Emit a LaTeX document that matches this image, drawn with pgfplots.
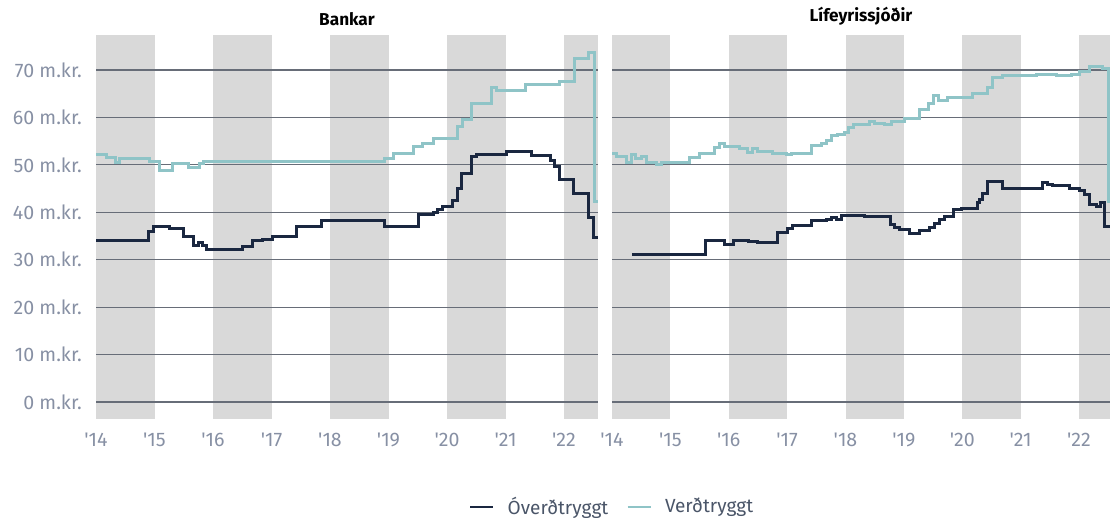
\documentclass[border=0pt]{standalone}
\usepackage{fontspec}
\setmainfont{Fira Sans}
\usepackage{pgfplots}
\pgfplotsset{compat=1.18}
\definecolor{navy}{HTML}{1A2740}
\definecolor{teal}{HTML}{8FC4C7}
\definecolor{band}{HTML}{D9D9D9}
\definecolor{gridc}{HTML}{676D78}
\definecolor{tickc}{HTML}{8790A4}
\definecolor{legc}{HTML}{4A5568}
\pgfplotsset{
  panel/.style={
    set layers,
    scale only axis,
    height=192pt,
    ymin=-3.6, ymax=77.4,
    enlargelimits=false,
    axis line style={draw=none},
    major tick style={draw=none},
    ymajorgrids,
    grid style={gridc, line width=0.6pt},
    ytick={0,10,...,70},
    xtick={2014,...,2022},
    xticklabels={\textquotesingle14,\textquotesingle15,\textquotesingle16,\textquotesingle17,\textquotesingle18,\textquotesingle19,\textquotesingle20,\textquotesingle21,\textquotesingle22},
    tick label style={font=\fontsize{9.8}{11}\selectfont, text=tickc},
    xticklabel style={yshift=-3.3pt},
    yticklabel style={xshift=-3.6pt},
    title style={font=\bfseries\fontsize{8.6}{10}\selectfont, text=black, yshift=-4.7pt},
  },
  navyl/.style={const plot, navy, line width=1.5pt, no marks},
  teall/.style={const plot, teal, line width=1.5pt, no marks},
}
\newcommand\bands[1]{%
  \begin{pgfonlayer}{axis background}
  \fill[band] (axis cs:2014,-3.6) rectangle (axis cs:2015,77.4);
  \fill[band] (axis cs:2016,-3.6) rectangle (axis cs:2017,77.4);
  \fill[band] (axis cs:2018,-3.6) rectangle (axis cs:2019,77.4);
  \fill[band] (axis cs:2020,-3.6) rectangle (axis cs:2021,77.4);
  \fill[band] (axis cs:2022,-3.6) rectangle (axis cs:#1,77.4);
  \end{pgfonlayer}}
\begin{document}
\begin{tikzpicture}
% Left panel: Bankar
\begin{axis}[panel, at={(48pt,49.5pt)}, anchor=south west, width=251pt,
  xmin=2014, xmax=2022.58,
  yticklabels={0 m.kr.,10 m.kr.,20 m.kr.,30 m.kr.,40 m.kr.,50 m.kr.,60 m.kr.,70 m.kr.},
  title={Bankar},
  legend style={at={(1.030,-0.229)}, anchor=center, draw=none, fill=none,
    legend columns=2, font=\fontsize{9.5}{11}\selectfont, text=legc,
    /tikz/every odd column/.append style={column sep=4.5pt},
    /tikz/every even column/.append style={column sep=7pt}},
  legend image code/.code={\draw[#1, line width=1.4pt] (0pt,0pt) -- (11.5pt,0pt);},
]
\bands{2022.58}
\addplot[navyl] coordinates {
(2014.000,34.0)(2014.901,35.9)(2014.991,37.0)(2015.248,36.6)(2015.487,34.9)
(2015.658,32.9)(2015.744,33.7)(2015.812,32.9)(2015.897,32.2)(2016.496,32.8)
(2016.667,34.0)(2016.838,34.2)(2017.009,34.9)(2017.419,37.0)(2017.846,38.2)
(2018.923,37.0)(2019.504,39.5)(2019.761,40.0)(2019.829,40.6)(2019.915,41.3)
(2020.085,42.4)(2020.171,45.1)(2020.239,48.2)(2020.410,51.8)(2020.496,52.2)
(2021.009,52.9)(2021.436,52.0)(2021.761,51.0)(2021.829,49.6)(2021.915,46.9)
(2022.154,43.9)(2022.410,39.0)(2022.496,34.6)(2022.581,34.6)
};
\addlegendentry{Óverðtryggt}
\addplot[teall] coordinates {
(2014.000,52.1)(2014.171,51.5)(2014.325,50.5)(2014.410,51.3)(2014.906,50.8)
(2015.077,48.9)(2015.316,50.2)(2015.573,49.4)(2015.761,50.2)(2015.829,50.8)
(2018.923,51.3)(2019.077,52.5)(2019.419,53.8)(2019.573,54.5)(2019.761,55.5)
(2020.171,58.1)(2020.256,59.6)(2020.410,62.9)(2020.752,66.3)(2020.838,65.7)
(2021.333,67.0)(2021.915,67.5)(2022.171,72.4)(2022.410,73.7)(2022.513,42.3)
(2022.581,42.3)
};
\addlegendentry{Verðtryggt}
\end{axis}
% Right panel: Lifeyrissjodir
\begin{axis}[panel, at={(306pt,49.5pt)}, anchor=south west, width=249pt,
  xmin=2014, xmax=2022.53,
  yticklabels={},
  title={Lífeyrissjóðir},
]
\bands{2022.53}
\addplot[navyl] coordinates {
(2014.342,31.2)(2015.607,34.0)(2015.932,33.3)(2016.085,34.0)(2016.342,33.8)
(2016.496,33.7)(2016.838,35.8)(2017.009,36.6)(2017.094,37.3)(2017.419,38.2)
(2017.675,38.5)(2017.761,39.0)(2017.846,38.5)(2017.932,39.4)(2018.325,39.1)
(2018.769,37.5)(2018.838,36.8)(2018.923,36.3)(2019.094,35.6)(2019.265,36.1)
(2019.436,36.8)(2019.521,37.6)(2019.607,38.4)(2019.692,39.1)(2019.846,40.6)
(2019.983,40.9)(2020.256,42.0)(2020.291,42.6)(2020.342,43.9)(2020.427,46.5)
(2020.684,45.1)(2021.368,46.3)(2021.453,45.9)(2021.538,45.6)(2021.829,45.1)
(2022.000,44.6)(2022.085,43.7)(2022.171,41.7)(2022.291,41.2)(2022.359,42.1)
(2022.427,37.1)(2022.530,37.1)
};
\addplot[teall] coordinates {
(2014.000,52.3)(2014.085,51.8)(2014.256,50.6)(2014.342,52.1)(2014.410,51.4)
(2014.513,51.8)(2014.598,50.4)(2014.769,50.1)(2014.855,50.5)(2015.026,50.6)
(2015.162,50.4)(2015.333,51.5)(2015.504,52.4)(2015.761,53.7)(2015.846,54.5)
(2015.932,53.8)(2016.188,53.5)(2016.325,52.7)(2016.410,53.4)(2016.496,52.8)
(2016.752,52.3)(2016.991,52.1)(2017.077,52.4)(2017.419,54.1)(2017.590,54.5)
(2017.675,55.1)(2017.761,56.1)(2017.863,56.5)(2017.983,56.8)(2018.051,57.8)
(2018.137,58.6)(2018.410,59.1)(2018.496,58.8)(2018.667,58.5)(2018.786,59.1)
(2019.009,59.8)(2019.265,61.7)(2019.419,62.9)(2019.504,64.6)(2019.590,63.6)
(2019.744,64.2)(2020.171,65.1)(2020.427,66.4)(2020.513,68.5)(2020.684,68.8)
(2021.265,69.1)(2021.607,68.8)(2021.863,69.1)(2022.000,69.8)(2022.171,70.7)
(2022.393,70.4)(2022.496,42.3)(2022.530,42.3)
};
\end{axis}
\pgfresetboundingbox
\useasboundingbox (0,0) rectangle (555pt,259pt);
\end{tikzpicture}
\end{document}
